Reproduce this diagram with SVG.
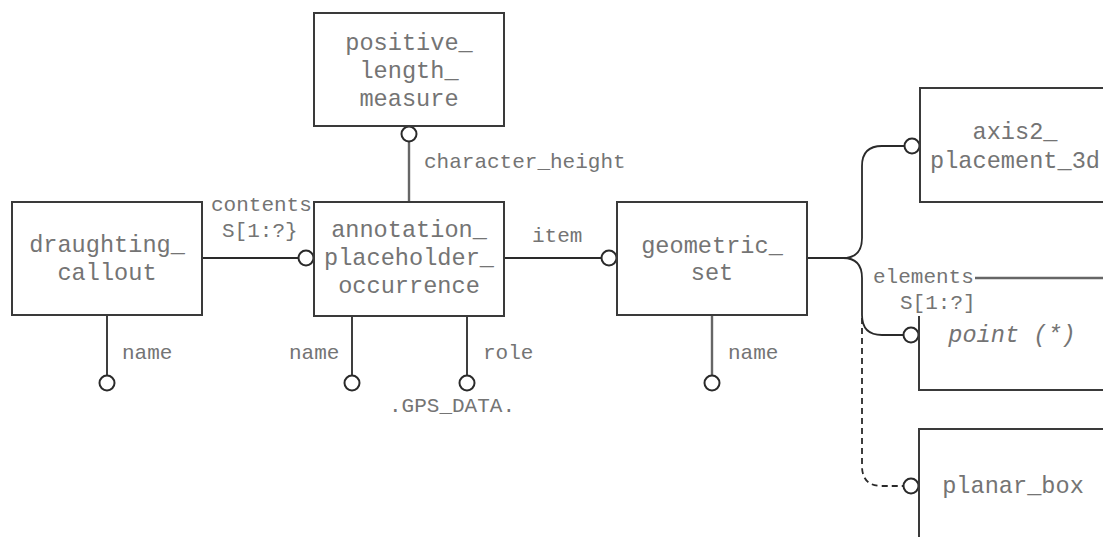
<svg xmlns="http://www.w3.org/2000/svg" width="1103" height="537" viewBox="0 0 1103 537">
<style>
.box{fill:#fff;stroke:#3a3a3a;stroke-width:2}
.ln{fill:none;stroke:#2a2a2a;stroke-width:1.8}
.lg{fill:none;stroke:#666;stroke-width:2.4}
.dash{fill:none;stroke:#2a2a2a;stroke-width:1.8;stroke-dasharray:6 4}
.c{fill:#fff;stroke:#2a2a2a;stroke-width:2}
.t{font-family:"Liberation Mono","Courier New",monospace;font-size:23.6px;fill:#747474;text-anchor:middle}
.l{font-family:"Liberation Mono","Courier New",monospace;font-size:21px;fill:#747474}
.i{font-style:italic}
</style>
<rect width="1103" height="537" fill="#fff"/>
<g id="connectors">
  <line class="ln" x1="202" y1="258" x2="298" y2="258"/>
  <circle class="c" cx="306" cy="258" r="7.5"/>
  <line class="ln" x1="504" y1="258" x2="601" y2="258"/>
  <circle class="c" cx="609" cy="258" r="7.5"/>
  <line class="lg" x1="409" y1="202" x2="409" y2="142"/>
  <circle class="c" cx="409" cy="134" r="7.5"/>
  <line class="ln" x1="107" y1="315" x2="107" y2="375"/>
  <circle class="c" cx="107" cy="383" r="7.5"/>
  <line class="ln" x1="352" y1="316" x2="352" y2="375"/>
  <circle class="c" cx="352" cy="383" r="7.5"/>
  <line class="ln" x1="467" y1="316" x2="467" y2="375"/>
  <circle class="c" cx="467" cy="383" r="7.5"/>
  <line class="lg" x1="712" y1="315" x2="712" y2="375"/>
  <circle class="c" cx="712" cy="383" r="7.5"/>
  <path class="ln" d="M807,258 H843 Q862,258 862,238 V166 Q862,146 882,146 H904"/>
  <circle class="c" cx="912" cy="146" r="7.5"/>
  <path class="ln" d="M843,258 Q862,258 862,278 V315 Q862,335 882,335 H903"/>
  <circle class="c" cx="911" cy="335" r="7.5"/>
  <path class="dash" d="M862,318 V466 Q862,486 882,486 H903"/>
  <circle class="c" cx="911" cy="486" r="7.5"/>
  <line class="lg" x1="975" y1="278" x2="1103" y2="278"/>
  <text class="l" x="211" y="211">contents</text>
  <text class="l" x="222" y="237">S[1:?}</text>
  <text class="l" x="532" y="242">item</text>
  <text class="l" x="424" y="168">character_height</text>
  <text class="l" x="122" y="359">name</text>
  <text class="l" x="289" y="359">name</text>
  <text class="l" x="483" y="359">role</text>
  <text class="l" x="728" y="359">name</text>
  <text class="l" x="389" y="412">.GPS_DATA.</text>
  <text class="l" x="873" y="283">elements</text>
  <text class="l" x="900" y="309">S[1:?]</text>
</g>
<g id="draughting_callout">
  <rect class="box" x="12" y="202" width="190" height="113"/>
  <text class="t" x="107" y="252">draughting_</text>
  <text class="t" x="107" y="280">callout</text>
</g>
<g id="positive_length_measure">
  <rect class="box" x="314" y="13" width="190" height="113"/>
  <text class="t" x="409" y="50">positive_</text>
  <text class="t" x="409" y="78">length_</text>
  <text class="t" x="409" y="106">measure</text>
</g>
<g id="annotation_placeholder_occurrence">
  <rect class="box" x="314" y="202" width="190" height="114"/>
  <text class="t" x="409" y="237">annotation_</text>
  <text class="t" x="409" y="265">placeholder_</text>
  <text class="t" x="409" y="293">occurrence</text>
</g>
<g id="geometric_set">
  <rect class="box" x="617" y="202" width="190" height="113"/>
  <text class="t" x="712" y="253">geometric_</text>
  <text class="t" x="712" y="280">set</text>
</g>
<g id="axis2_placement_3d">
  <rect class="box" x="920" y="88" width="192" height="114"/>
  <text class="t" x="1015" y="139">axis2_</text>
  <text class="t" x="1015" y="168">placement_3d</text>
</g>
<g id="point">
  <path class="box" d="M919,316 V390 H1110"/>
  <text class="t i" x="1012" y="342">point (*)</text>
</g>
<g id="planar_box">
  <path class="box" d="M919,545 V429 H1110"/>
  <text class="t" x="1013" y="493">planar_box</text>
</g>
</svg>
